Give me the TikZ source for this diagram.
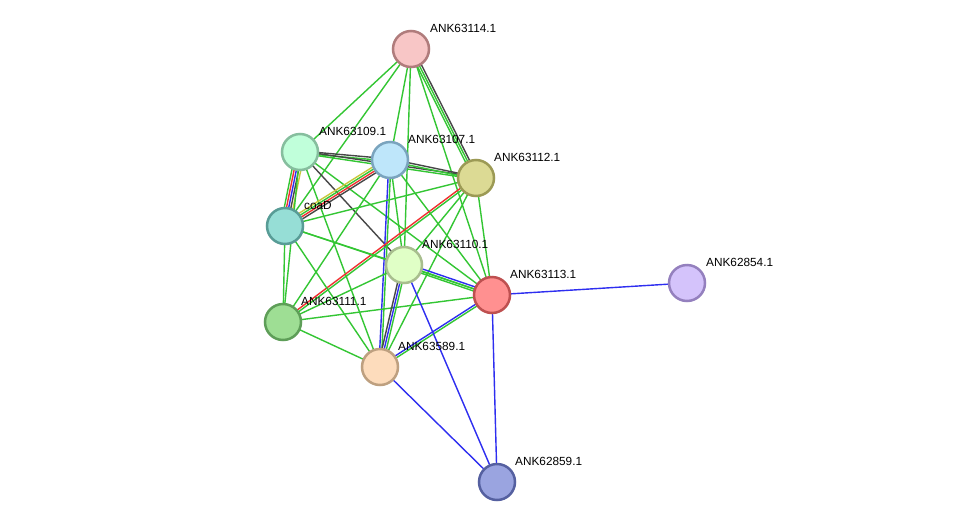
\documentclass[tikz,border=0pt]{standalone}
\usepackage{fontspec}
\setmainfont{Liberation Sans}
\usetikzlibrary{calc}
\definecolor{eg}{HTML}{33C633}
\definecolor{eb}{HTML}{2E2EF0}
\definecolor{er}{HTML}{F03030}
\definecolor{ek}{HTML}{474747}
\definecolor{ey}{HTML}{C8C83C}
\tikzset{
  edgeline/.style={line width=1.4pt},
  prot/.style={circle, minimum size=36pt, inner sep=0pt, line width=2.5pt},
  lab/.style={anchor=west, font=\fontsize{11.8}{14}\selectfont, text=black, inner sep=0pt}
}
\newcommand\sedge[4]{%
  \foreach \c [count=\i] in {#4} {%
    \pgfmathsetmacro\o{(\i-(#3+1)/2)*2.2}%
    \draw[edgeline,\c] ($(#1)!\o pt!90:(#2)$) -- ($(#2)!\o pt!-90:(#1)$);
  }%
}
\begin{document}
\begin{tikzpicture}[x=1pt,y=-1pt]
\useasboundingbox (0,0) rectangle (975,528);
\fill[white] (0,0) rectangle (975,528);
% centres
\coordinate (p114) at (411,49);
\coordinate (p109) at (300,152);
\coordinate (p107) at (390,160);
\coordinate (p112) at (476,178);
\coordinate (pcoaD) at (285,226);
\coordinate (p110) at (404,265);
\coordinate (p113) at (492,295);
\coordinate (p854) at (687,283);
\coordinate (p111) at (283,322);
\coordinate (p589) at (380,367);
\coordinate (p859) at (497,482);
% edges
\sedge{p114}{p109}{1}{eg}
\sedge{p114}{pcoaD}{1}{eg}
\sedge{p114}{p107}{1}{eg}
\sedge{p114}{p110}{1}{eg}
\sedge{p114}{p112}{3}{eg,eg,ek}
\sedge{p114}{p113}{1}{eg}
\sedge{p109}{p107}{2}{eg,ek}
\sedge{p109}{p112}{2}{eg,ek}
\sedge{p109}{pcoaD}{5}{eg,er,eb,ek,ey}
\sedge{p109}{p110}{1}{ek}
\sedge{p109}{p113}{1}{eg}
\sedge{p109}{p589}{1}{eg}
\sedge{p109}{p111}{1}{eg}
\sedge{p107}{pcoaD}{4}{ey,eg,er,ek}
\sedge{p107}{p112}{2}{eg,ek}
\sedge{p107}{p110}{1}{eg}
\sedge{p107}{p589}{2}{eb,eg}
\sedge{p107}{p113}{1}{eg}
\sedge{p107}{p111}{1}{eg}
\sedge{p112}{p111}{2}{er,eg}
\sedge{p112}{pcoaD}{1}{eg}
\sedge{p112}{p110}{1}{eg}
\sedge{p112}{p113}{1}{eg}
\sedge{p112}{p589}{1}{eg}
\sedge{pcoaD}{p110}{1}{eg}
\sedge{pcoaD}{p113}{1}{eg}
\sedge{pcoaD}{p111}{1}{eg}
\sedge{pcoaD}{p589}{1}{eg}
\sedge{p111}{p110}{1}{eg}
\sedge{p111}{p113}{1}{eg}
\sedge{p111}{p589}{1}{eg}
\sedge{p110}{p589}{3}{ek,eb,eg}
\sedge{p110}{p113}{3}{eg,eg,eb}
\sedge{p589}{p113}{2}{eg,eb}
\sedge{p113}{p854}{1}{eb}
\sedge{p113}{p859}{1}{eb}
\sedge{p110}{p859}{1}{eb}
\sedge{p589}{p859}{1}{eb}
% nodes
\node[prot, fill={rgb,255:red,248;green,198;blue,198}, draw={rgb,255:red,176;green,124;blue,124}] (n114) at (p114) {};
\node[prot, fill={rgb,255:red,192;green,255;blue,218}, draw={rgb,255:red,134;green,190;blue,158}] (n109) at (p109) {};
\node[prot, fill={rgb,255:red,190;green,230;blue,250}, draw={rgb,255:red,122;green,164;blue,190}] (n107) at (p107) {};
\node[prot, fill={rgb,255:red,220;green,218;blue,148}, draw={rgb,255:red,156;green,154;blue,85}] (n112) at (p112) {};
\node[prot, fill={rgb,255:red,150;green,222;blue,214}, draw={rgb,255:red,88;green,156;blue,150}] (ncoaD) at (pcoaD) {};
\node[prot, fill={rgb,255:red,224;green,255;blue,198}, draw={rgb,255:red,168;green,190;blue,142}] (n110) at (p110) {};
\node[prot, fill={rgb,255:red,255;green,144;blue,144}, draw={rgb,255:red,190;green,80;blue,80}] (n113) at (p113) {};
\node[prot, fill={rgb,255:red,212;green,195;blue,251}, draw={rgb,255:red,148;green,128;blue,190}] (n854) at (p854) {};
\node[prot, fill={rgb,255:red,158;green,222;blue,148}, draw={rgb,255:red,94;green,158;blue,88}] (n111) at (p111) {};
\node[prot, fill={rgb,255:red,253;green,220;blue,188}, draw={rgb,255:red,190;green,160;blue,128}] (n589) at (p589) {};
\node[prot, fill={rgb,255:red,154;green,164;blue,224}, draw={rgb,255:red,85;green,96;blue,160}] (n859) at (p859) {};
% labels
\node[lab] (l114) at ($(p114)+(19,-21)$) {ANK63114.1};
\node[lab] (l109) at ($(p109)+(19,-21)$) {ANK63109.1};
\node[lab] (l107) at ($(p107)+(18,-21)$) {ANK63107.1};
\node[lab] (l112) at ($(p112)+(18,-21)$) {ANK63112.1};
\node[lab] (lcoaD) at ($(pcoaD)+(19,-21)$) {coaD};
\node[lab] (l110) at ($(p110)+(18,-21)$) {ANK63110.1};
\node[lab] (l113) at ($(p113)+(18,-21)$) {ANK63113.1};
\node[lab] (l854) at ($(p854)+(19,-21)$) {ANK62854.1};
\node[lab] (l111) at ($(p111)+(18,-21)$) {ANK63111.1};
\node[lab] (l589) at ($(p589)+(18,-21)$) {ANK63589.1};
\node[lab] (l859) at ($(p859)+(18,-21)$) {ANK62859.1};
\end{tikzpicture}
\end{document}
